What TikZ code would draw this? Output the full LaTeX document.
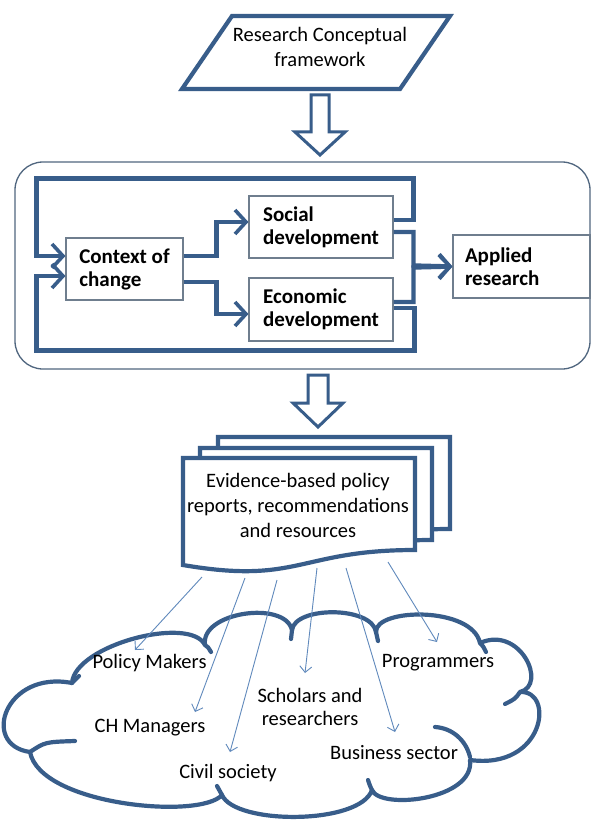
\documentclass[tikz,border=0pt]{standalone}
\usepackage{fontspec}
\setmainfont{Carlito}
\usetikzlibrary{arrows.meta,calc}
\definecolor{linkblue}{HTML}{385D8A}
\definecolor{thinblue}{HTML}{6089BC}
\definecolor{boxgray}{HTML}{6F7E8E}
\definecolor{framegray}{HTML}{50667F}

\begin{document}
\begin{tikzpicture}[x=1pt,y=-1pt,
  txt/.style={font=\fontsize{20.5}{25}\selectfont, align=center, inner sep=0pt},
  lbl/.style={font=\fontsize{20.5}{23}\selectfont, align=center, inner sep=0pt},
  stage/.style={draw=boxgray, line width=1.1pt, fill=white,
    font=\bfseries\fontsize{21}{23}\selectfont, align=left,
    minimum height=62pt, inner sep=0pt},
  flow/.style={draw=linkblue, line width=4.4pt,
    -{Straight Barb[length=11pt,width=24pt,line width=3.6pt]}},
  feed/.style={draw=thinblue, line width=0.9pt,
    -{Straight Barb[length=6pt,width=12pt,line width=0.9pt]}},
  bold outline/.style={draw=linkblue, line width=4.2pt, fill=white},
  hollow/.style={draw=linkblue, line width=3pt, fill=white, line join=miter}
]
\useasboundingbox (0,0) rectangle (593,821);
\fill[white] (0,0) rectangle (593,821);

% top parallelogram
\draw[bold outline] (232,16) -- (450,16) -- (400,89) -- (182,89) -- cycle;
\node[txt] (concept) at (320,47) {Research Conceptual\\framework};

% first hollow arrow
\draw[hollow] (311,95) -- (329,95) -- (329,132) -- (345,132) -- (320,155)
  -- (295,132) -- (311,132) -- cycle;

% rounded frame around the development loop
\node[draw=framegray, line width=1.3pt, rounded corners=28pt,
  minimum width=575pt, minimum height=207pt, inner sep=0pt]
  (frame) at (302.5,265.5) {};

% stage boxes
\node[stage, minimum width=117pt] (ctx) at (124.5,269) {Context of\\change};
\node[stage, minimum width=144pt] (soc) at (321,227) {Social\\development};
\node[stage, minimum width=144pt, minimum height=63pt] (eco) at (321,309.5) {Economic\\development};
\node[stage, text width=113pt, inner xsep=12pt, minimum height=63pt] (app) at (521.5,266.5) {Applied\\research};

% forward flows
\draw[flow] ($(ctx.east)+(0,-13)$) -| ($(soc.west)+(-32,-5)$) -- ($(soc.west)+(0,-5)$);
\draw[flow] ($(ctx.east)+(0,13)$) -| ($(eco.west)+(-32,4.5)$) -- ($(eco.west)+(0,4.5)$);
\draw[flow] ($(soc.east)+(0,5)$) -| ($(app.west)+(-39,-1)$) -- ($(app.west)+(0,0)$);
\draw[flow] ($(eco.east)+(0,-7.5)$) -| ($(app.west)+(-39,1)$) -- ($(app.west)+(0,0)$);

% feedback loops
\draw[flow] ($(soc.east)+(0,-7)$) -- ++(20,0) |- ($(frame.north west)+(22,17)$)
  |- ($(ctx.west)+(0,-13)$);
\draw[flow] ($(eco.east)+(0,-1.5)$) -- ++(21,0) |- ($(frame.south west)+(22,-19)$)
  |- ($(ctx.west)+(0,7)$);

% second hollow arrow
\draw[hollow] (308,375) -- (328,375) -- (328,403) -- (343,403) -- (318,427)
  -- (293,403) -- (308,403) -- cycle;

% stacked documents
\foreach \dx/\dy in {35/-21, 17/-10, 0/0}
  \draw[bold outline, shift={(\dx,\dy)}] (183,458) -- (415,458) -- (415,550)
    .. controls (299,550) and (299,585) .. (183,565) -- cycle;
\node[txt] (doc) at (298,505) {Evidence-based policy\\reports, recommendations\\and resources};

% audience cloud
\draw[bold outline, line join=round]
  (72,683) .. controls (75,645) and (190,615) .. (205,645)
  .. controls (200,612) and (285,600) .. (292,630)
  .. controls (295,606) and (372,606) .. (376,632)
  .. controls (375,608) and (472,606) .. (480,643)
  .. controls (520,625) and (548,685) .. (520,692)
  .. controls (555,690) and (545,770) .. (470,760)
  .. controls (475,800) and (380,810) .. (372,790)
  .. controls (360,825) and (235,825) .. (222,795)
  .. controls (200,820) and (40,805) .. (30,752)
  .. controls (-20,745) and (5,670) .. (72,683) -- cycle;
% inner folds of the cloud
\begin{scope}[draw=linkblue, line width=4.2pt, line cap=round]
  \draw (72,683) .. controls (75,679) .. (79,676);
  \draw (205,645) .. controls (208,647) .. (211,652);
  \draw (292,630) .. controls (292,634) .. (291,639);
  \draw (376,632) .. controls (377,636) .. (378,641);
  \draw (480,643) .. controls (483,646) .. (486,652);
  \draw (520,692) .. controls (515,699) .. (505,704);
  \draw (435,727) .. controls (452,728) and (466,740) .. (470,757);
  \draw (372,790) .. controls (370,786) .. (368,780);
  \draw (222,795) .. controls (220,791) .. (217,786);
  \draw (30,752) .. controls (45,742) .. (75,741);
\end{scope}

% audience labels
\node[lbl] (pm)   at (149.5,663) {Policy Makers};
\node[lbl] (chm)  at (150,728)   {CH Managers};
\node[lbl] (civ)  at (228,773)   {Civil society};
\node[lbl] (sch)  at (310,706.5) {Scholars and\\researchers};
\node[lbl] (bus)  at (394,753)   {Business sector};
\node[lbl] (prog) at (438,663)   {Programmers};

% distribution arrows
\coordinate (s1) at (202,577);
\coordinate (s2) at (245,578);
\coordinate (s3) at (277,580);
\coordinate (s4) at (317,568);
\coordinate (s5) at (346,568);
\coordinate (s6) at (388,562);
\draw[feed] (s1) -- ($(pm.center)+(-14.5,-13)$);
\draw[feed] (s2) -- ($(chm.center)+(45,-16)$);
\draw[feed] (s3) -- ($(civ.center)+(2,-21)$);
\draw[feed] (s4) -- ($(sch.center)+(-5,-33.5)$);
\draw[feed] (s5) -- ($(bus.center)+(1,-21)$);
\draw[feed] (s6) -- ($(prog.center)+(-1,-21)$);
\end{tikzpicture}
\end{document}
